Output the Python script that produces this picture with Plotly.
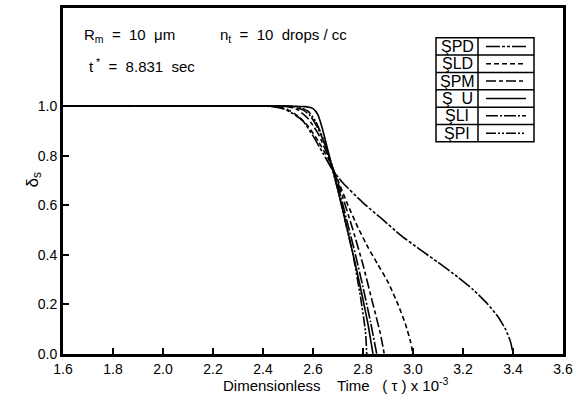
import plotly.graph_objects as go

# ---- data ----
spd_x = [1.6, 2.2, 2.40, 2.44, 2.48, 2.52, 2.56, 2.60, 2.64, 2.68, 2.72, 2.80, 2.87, 2.95, 3.03, 3.10, 3.18, 3.24, 3.30, 3.34, 3.37, 3.39, 3.40]
spd_y = [1.0, 1.0, 1.0, 0.998, 0.99, 0.97, 0.94, 0.88, 0.81, 0.74, 0.69, 0.61, 0.55, 0.48, 0.42, 0.37, 0.31, 0.26, 0.20, 0.15, 0.10, 0.05, 0.0]

sld_x = [1.6, 2.2, 2.42, 2.46, 2.50, 2.54, 2.58, 2.62, 2.66, 2.70, 2.74, 2.78, 2.82, 2.86, 2.90, 2.94, 2.97, 2.99, 3.00]
sld_y = [1.0, 1.0, 1.0, 0.998, 0.985, 0.96, 0.92, 0.86, 0.79, 0.70, 0.60, 0.51, 0.43, 0.36, 0.29, 0.20, 0.12, 0.05, 0.0]

spm_x = [1.6, 2.2, 2.46, 2.50, 2.54, 2.58, 2.62, 2.66, 2.69, 2.72, 2.76, 2.80, 2.84, 2.87, 2.885]
spm_y = [1.0, 1.0, 1.0, 0.998, 0.985, 0.95, 0.89, 0.80, 0.72, 0.63, 0.50, 0.36, 0.20, 0.08, 0.0]

su_x = [1.6, 2.2, 2.50, 2.57, 2.60, 2.62, 2.64, 2.66, 2.68, 2.71, 2.74, 2.77, 2.80, 2.82, 2.84]
su_y = [1.0, 1.0, 1.0, 0.998, 0.99, 0.965, 0.90, 0.82, 0.74, 0.62, 0.49, 0.36, 0.22, 0.12, 0.0]

sli_x = [1.6, 2.2, 2.47, 2.52, 2.56, 2.59, 2.62, 2.65, 2.68, 2.71, 2.74, 2.77, 2.80, 2.83, 2.855]
sli_y = [1.0, 1.0, 1.0, 0.998, 0.985, 0.96, 0.91, 0.84, 0.75, 0.64, 0.52, 0.40, 0.27, 0.13, 0.0]

spi_x = [1.6, 2.2, 2.49, 2.54, 2.58, 2.61, 2.64, 2.67, 2.70, 2.73, 2.76, 2.79, 2.81, 2.815]
spi_y = [1.0, 1.0, 1.0, 0.998, 0.98, 0.94, 0.87, 0.77, 0.66, 0.53, 0.40, 0.23, 0.09, 0.0]

series_names = ["SPD", "SLD", "SPM", "SU", "SLI", "SPI"]
legend_labels = ["\u015ePD", "\u015eLD", "\u015ePM", "\u015e  U", "\u015eLI", "\u015ePI"]
x_ticks = [1.6, 1.8, 2.0, 2.2, 2.4, 2.6, 2.8, 3.0, 3.2, 3.4, 3.6]
y_ticks = [0.0, 0.2, 0.4, 0.6, 0.8, 1.0]

dashes = {
    "SPD": "14px,2px,3px,2px,3px,2px",
    "SLD": "5px,3px",
    "SPM": "10px,3px,4px,3px",
    "SU": "solid",
    "SLI": "12px,2px,2px,2px",
    "SPI": "10px,2px,2px,2px,2px,2px",
}

data = {
    "SPD": (spd_x, spd_y),
    "SLD": (sld_x, sld_y),
    "SPM": (spm_x, spm_y),
    "SU": (su_x, su_y),
    "SLI": (sli_x, sli_y),
    "SPI": (spi_x, spi_y),
}

fig = go.Figure()
for name in series_names:
    xs, ys = data[name]
    fig.add_trace(go.Scatter(
        x=xs, y=ys, mode="lines", name=name,
        line=dict(color="black", width=1.6, dash=dashes[name], shape="spline", smoothing=0.5),
        showlegend=False,
    ))

font_main = "Liberation Sans"

# ---- legend table drawn as shapes ----
tbl_x0, tbl_xm, tbl_x1 = 3.092, 3.26, 3.484
tbl_top, row_h = 1.276, 0.07
shapes = []
n = len(series_names)
shapes.append(dict(type="rect", xref="x", yref="y", x0=tbl_x0, x1=tbl_x1,
                   y0=tbl_top - n * row_h, y1=tbl_top, line=dict(color="black", width=1.5),
                   fillcolor="white", layer="above"))
shapes.append(dict(type="line", xref="x", yref="y", x0=tbl_xm, x1=tbl_xm,
                   y0=tbl_top - n * row_h, y1=tbl_top, line=dict(color="black", width=1.5), layer="above"))
annotations = []
for i, name in enumerate(series_names):
    yc = tbl_top - (i + 0.5) * row_h
    if i > 0:
        shapes.append(dict(type="line", xref="x", yref="y", x0=tbl_x0, x1=tbl_x1,
                           y0=tbl_top - i * row_h, y1=tbl_top - i * row_h,
                           line=dict(color="black", width=1.5), layer="above"))
    shapes.append(dict(type="line", xref="x", yref="y", x0=3.292, x1=3.452, y0=yc, y1=yc,
                       line=dict(color="black", width=1.5, dash=dashes[name]), layer="above"))
    annotations.append(dict(x=(tbl_x0 + tbl_xm) / 2, y=yc, xref="x", yref="y", text=legend_labels[i],
                            showarrow=False, font=dict(family=font_main, size=16, color="black"),
                            xanchor="center", yanchor="middle"))

annotations += [
    dict(x=1.676, y=1.284, xref="x", yref="y", text="R<sub>m</sub>  =  10  \u03bcm", showarrow=False,
         xanchor="left", yanchor="middle", font=dict(family=font_main, size=15, color="black")),
    dict(x=2.22, y=1.284, xref="x", yref="y", text="n<sub>t</sub>  =  10  drops / cc", showarrow=False,
         xanchor="left", yanchor="middle", font=dict(family=font_main, size=15, color="black")),
    dict(x=1.696, y=1.164, xref="x", yref="y", text="t<sup> *</sup>  =  8.831  sec", showarrow=False,
         xanchor="left", yanchor="middle", font=dict(family=font_main, size=15, color="black")),
    dict(x=0.544, y=-0.0885, xref="paper", yref="paper",
         text="Dimensionless    Time   ( \u03c4 ) x 10<sup>-3</sup>", showarrow=False,
         xanchor="center", yanchor="middle", font=dict(family=font_main, size=15, color="black")),
    dict(x=-0.06, y=0.70, xref="paper", yref="y", text="\u03b4<sub>s</sub>", showarrow=False,
         textangle=-90, xanchor="center", yanchor="middle",
         font=dict(family=font_main, size=17, color="black")),
]

fig.update_layout(
    width=583, height=401,
    margin=dict(l=63, r=20, t=5, b=47),
    plot_bgcolor="white", paper_bgcolor="white",
    shapes=shapes, annotations=annotations,
    font=dict(family=font_main, size=14, color="black"),
)
fig.update_xaxes(range=[1.6, 3.6], tickvals=x_ticks, ticktext=[f"{v:.1f}" for v in x_ticks],
                 ticks="inside", ticklen=6, tickwidth=1.5, tickcolor="black",
                 showline=True, linewidth=3, linecolor="black", mirror=True,
                 showgrid=False, zeroline=False, tickfont=dict(size=14, family=font_main))
fig.update_yaxes(range=[0, 1.396], tickvals=y_ticks, ticktext=[f"{v:.1f}" for v in y_ticks],
                 ticks="inside", ticklen=6, tickwidth=1.5, tickcolor="black",
                 showline=True, linewidth=3, linecolor="black", mirror=True,
                 showgrid=False, zeroline=False, tickfont=dict(size=14, family=font_main))

fig.write_html("out.html")
